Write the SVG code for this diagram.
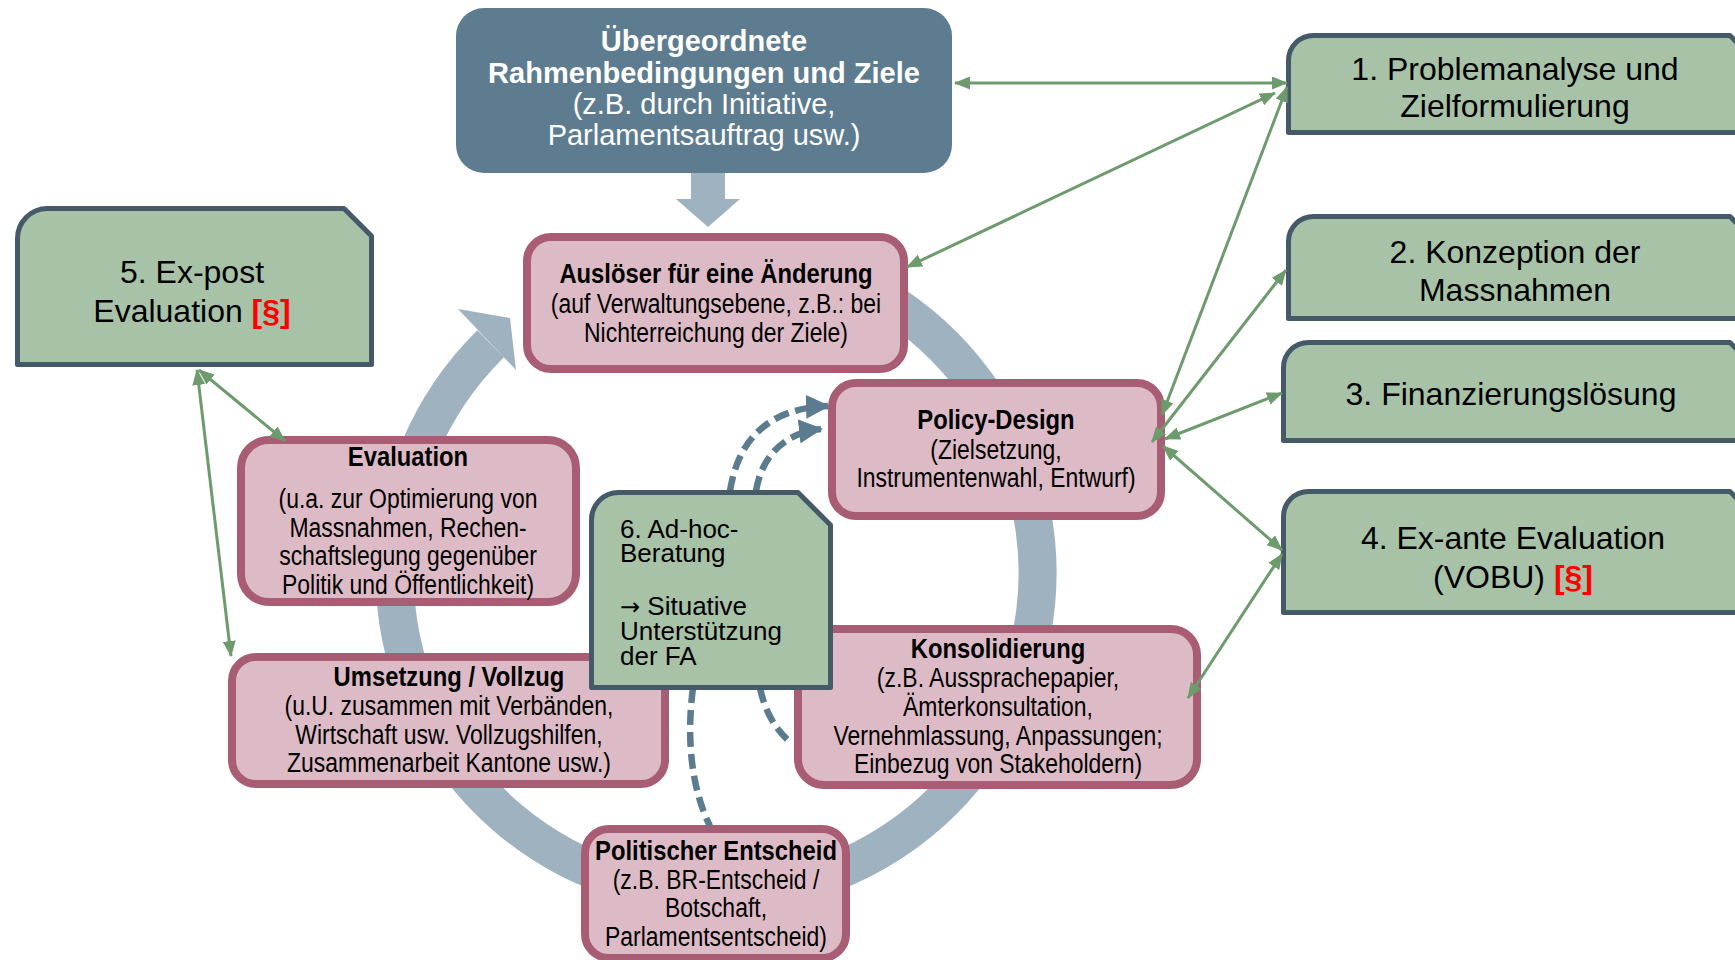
<svg xmlns="http://www.w3.org/2000/svg" width="1735" height="960" viewBox="0 0 1735 960">
<style>
.pink{fill:#ddbbc6;stroke:#a85d75;stroke-width:8}
.green{fill:#a8c2a8;stroke:#455a69;stroke-width:5;stroke-linejoin:round}
.gt{font-family:"Liberation Sans",Arial,sans-serif;font-size:32px;fill:#000;text-anchor:middle}
.red{fill:#ff0000;font-weight:bold}
.pt{font-family:"Liberation Sans",Arial,sans-serif;font-size:27px;fill:#000;text-anchor:middle}
.pb{font-weight:bold;font-size:28px}
.wt{font-family:"Liberation Sans",Arial,sans-serif;font-size:29px;fill:#fff;text-anchor:middle}
.at{font-family:"Liberation Sans",Arial,sans-serif;font-size:26px;fill:#000}
.gl{fill:none;stroke:#6d9b6d;stroke-width:3;marker-start:url(#ga);marker-end:url(#ga)}
.dl{fill:none;stroke:#5b7b8e;stroke-width:6.5;stroke-dasharray:15 7}
</style>
<defs>
<marker id="ga" markerUnits="userSpaceOnUse" markerWidth="16" markerHeight="13" viewBox="0 0 16 13" refX="15" refY="6.5" orient="auto-start-reverse"><path d="M0,0 L16,6.5 L0,13 z" fill="#6d9b6d"/></marker>
<marker id="da" markerUnits="userSpaceOnUse" markerWidth="24" markerHeight="24" viewBox="0 0 24 24" refX="22" refY="12" orient="auto"><path d="M0,0 L24,12 L0,24 z" fill="#5b7b8e"/></marker>
</defs>

<g id="cycle">
<path d="M866.9,289.1 A321.5,321.5 0 1 1 490.7,343.7" fill="none" stroke="#9fb2bf" stroke-width="38"/>
<polygon points="458,309 510,318 516,370" fill="#9fb2bf"/>
</g>

<g id="down-arrow">
<polygon points="691,173 725,173 725,199 740,199 708,227 676,199 691,199" fill="#9fb2bf"/>
</g>

<g id="top-goals">
<rect x="456" y="8" width="496" height="165" rx="28" fill="#5e7c8f"/>
<text class="wt" x="704" y="51" font-weight="bold">Übergeordnete</text>
<text class="wt" x="704" y="83" font-weight="bold">Rahmenbedingungen und Ziele</text>
<text class="wt" x="704" y="114">(z.B. durch Initiative,</text>
<text class="wt" x="704" y="145">Parlamentsauftrag usw.)</text>
</g>

<g id="box1">
<path class="green" d="M1288.5,132.5 L1288.5,60.5 A25,25 0 0 1 1313.5,35.5 L1730,35.5 L1760,65.5 L1760,132.5 Z"/>
<text class="gt" x="1515" y="80">1. Problemanalyse und</text>
<text class="gt" x="1515" y="117">Zielformulierung</text>
</g>
<g id="box2">
<path class="green" d="M1288.5,318.5 L1288.5,241.5 A25,25 0 0 1 1313.5,216.5 L1730,216.5 L1760,246.5 L1760,318.5 Z"/>
<text class="gt" x="1515" y="263">2. Konzeption der</text>
<text class="gt" x="1515" y="301">Massnahmen</text>
</g>
<g id="box3">
<path class="green" d="M1283.5,440.5 L1283.5,367.5 A25,25 0 0 1 1308.5,342.5 L1730,342.5 L1760,372.5 L1760,440.5 Z"/>
<text class="gt" x="1511" y="405">3. Finanzierungslösung</text>
</g>
<g id="box4">
<path class="green" d="M1283.5,612.5 L1283.5,516.5 A25,25 0 0 1 1308.5,491.5 L1730,491.5 L1760,521.5 L1760,612.5 Z"/>
<text class="gt" x="1513" y="549">4. Ex-ante Evaluation</text>
<text class="gt" x="1513" y="588">(VOBU) <tspan class="red">[§]</tspan></text>
</g>
<g id="box5">
<path class="green" d="M17.5,364.5 L17.5,238.5 A30,30 0 0 1 47.5,208.5 L344,208.5 L371.5,236 L371.5,364.5 Z"/>
<text class="gt" x="192" y="283">5. Ex-post</text>
<text class="gt" x="192" y="322">Evaluation <tspan class="red">[§]</tspan></text>
</g>

<g id="ausloeser">
<rect class="pink" x="527" y="237" width="377" height="132" rx="24"/>
<g transform="translate(716,0) scale(0.85,1)">
<text class="pt pb" x="0" y="283">Auslöser für eine Änderung</text>
<text class="pt" x="0" y="313">(auf Verwaltungsebene, z.B.: bei</text>
<text class="pt" x="0" y="342">Nichterreichung der Ziele)</text>
</g>
</g>
<g id="policy-design">
<rect class="pink" x="832" y="383" width="329" height="133" rx="24"/>
<g transform="translate(996,0) scale(0.85,1)">
<text class="pt pb" x="0" y="429">Policy-Design</text>
<text class="pt" x="0" y="459">(Zielsetzung,</text>
<text class="pt" x="0" y="487">Instrumentenwahl, Entwurf)</text>
</g>
</g>
<g id="evaluation">
<rect class="pink" x="241" y="440" width="335" height="162" rx="28"/>
<g transform="translate(408,0) scale(0.85,1)">
<text class="pt pb" x="0" y="466">Evaluation</text>
<text class="pt" x="0" y="508">(u.a. zur Optimierung von</text>
<text class="pt" x="0" y="537">Massnahmen, Rechen-</text>
<text class="pt" x="0" y="565">schaftslegung gegenüber</text>
<text class="pt" x="0" y="594">Politik und Öffentlichkeit)</text>
</g>
</g>
<g id="umsetzung">
<rect class="pink" x="232" y="657" width="433" height="127" rx="24"/>
<g transform="translate(449,0) scale(0.85,1)">
<text class="pt pb" x="0" y="686">Umsetzung / Vollzug</text>
<text class="pt" x="0" y="715">(u.U. zusammen mit Verbänden,</text>
<text class="pt" x="0" y="744">Wirtschaft usw. Vollzugshilfen,</text>
<text class="pt" x="0" y="772">Zusammenarbeit Kantone usw.)</text>
</g>
</g>
<g id="konsolidierung">
<rect class="pink" x="798" y="629" width="399" height="156" rx="26"/>
<g transform="translate(998,0) scale(0.85,1)">
<text class="pt pb" x="0" y="658">Konsolidierung</text>
<text class="pt" x="0" y="687">(z.B. Aussprachepapier,</text>
<text class="pt" x="0" y="716">Ämterkonsultation,</text>
<text class="pt" x="0" y="745">Vernehmlassung, Anpassungen;</text>
<text class="pt" x="0" y="773">Einbezug von Stakeholdern)</text>
</g>
</g>
<g id="politischer-entscheid">
<rect class="pink" x="585" y="829" width="261" height="129" rx="24"/>
<g transform="translate(716,0) scale(0.85,1)">
<text class="pt pb" x="0" y="860">Politischer Entscheid</text>
<text class="pt" x="0" y="889">(z.B. BR-Entscheid /</text>
<text class="pt" x="0" y="917">Botschaft,</text>
<text class="pt" x="0" y="946">Parlamentsentscheid)</text>
</g>
</g>

<g id="connectors">
<path class="dl" d="M693,688 C686,740 692,790 710,826"/>
<path class="dl" d="M760,688 Q767,722 790,742"/>
<path class="dl" d="M730,491 C738,440 768,408 828,406" marker-end="url(#da)"/>
<path class="dl" d="M756,491 C762,455 785,433 821,429" marker-end="url(#da)"/>
<line class="gl" x1="955" y1="83" x2="1287" y2="83"/>
<line class="gl" x1="907" y1="267" x2="1275" y2="93"/>
<line class="gl" x1="1162" y1="415" x2="1287" y2="87"/>
<line class="gl" x1="1152" y1="442" x2="1286" y2="270"/>
<line class="gl" x1="1165" y1="439" x2="1282" y2="393"/>
<line class="gl" x1="1163" y1="446" x2="1282" y2="550"/>
<line class="gl" x1="1188" y1="698" x2="1282" y2="554"/>
<line class="gl" x1="199" y1="370" x2="285" y2="441"/>
<line class="gl" x1="197" y1="370" x2="231" y2="656"/>
</g>

<g id="adhoc">
<path class="green" d="M591.5,687.5 L591.5,519.5 A27,27 0 0 1 618.5,492.5 L798,492.5 L830.5,525 L830.5,687.5 Z"/>
<text class="at">
<tspan x="620" y="538">6. Ad-hoc-</tspan>
<tspan x="620" y="562">Beratung</tspan>
<tspan x="620" y="615"><tspan font-family="DejaVu Sans" font-size="24">→</tspan> Situative</tspan>
<tspan x="620" y="640">Unterstützung</tspan>
<tspan x="620" y="665">der FA</tspan>
</text>
</g>
</svg>
